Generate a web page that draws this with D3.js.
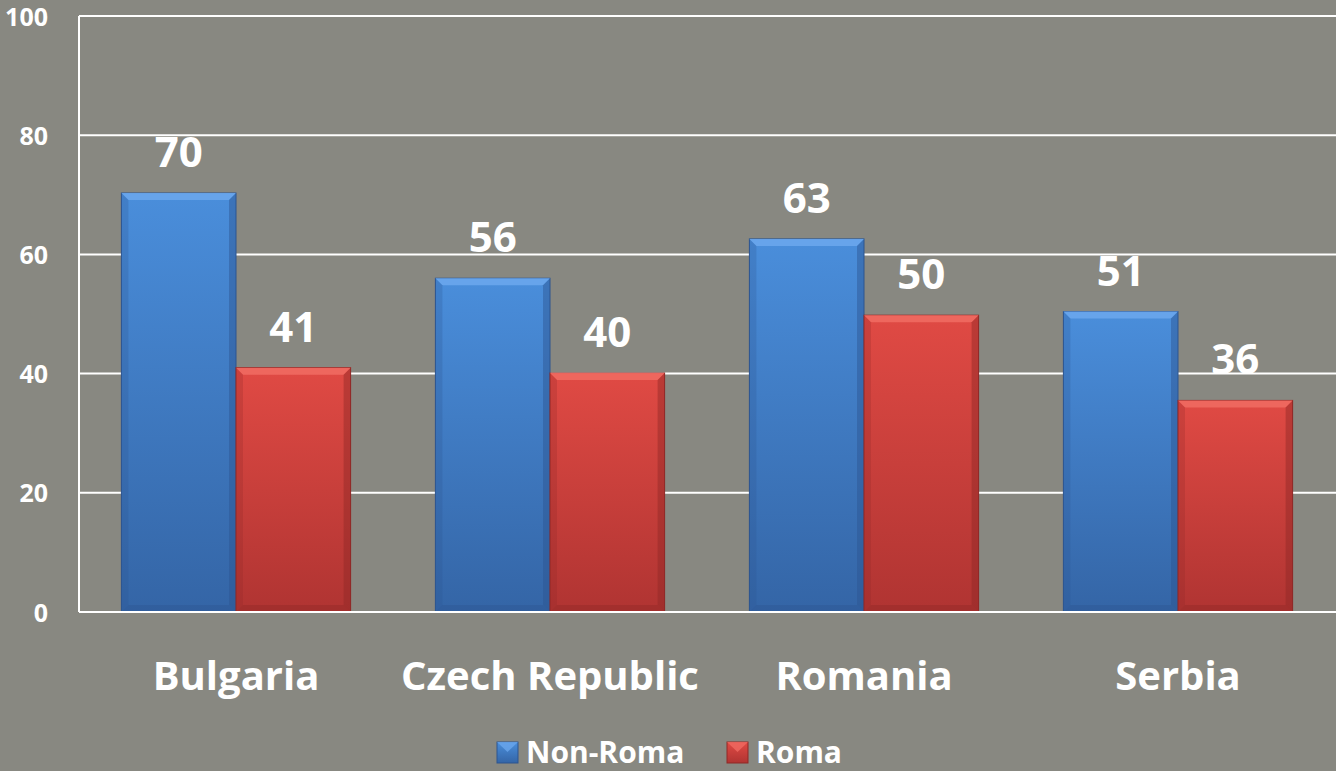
<!DOCTYPE html>
<html><head><meta charset="utf-8">
<script src="https://cdn.jsdelivr.net/npm/d3@7"></script>
<style>
html,body{margin:0;padding:0;background:#888881;}
svg{display:block;}
text{font-family:"Open Sans",Lato,sans-serif;font-weight:700;fill:#fff;}
</style></head><body>
<svg id="c" width="1336" height="771"></svg>
<script>
const categories = ["Bulgaria","Czech Republic","Romania","Serbia"];
const seriesNames = ["Non-Roma","Roma"];
const nonRoma = [70.3, 56.0, 62.6, 50.4];
const roma = [41.0, 40.1, 49.8, 35.5];
const nonRomaLabels = ["70","56","63","51"];
const romaLabels = ["41","40","50","36"];
const yTicks = [0,20,40,60,80,100];

const W = 1336, H = 771;
const m = {left:79, right:1, top:16, bottom:159};
const svg = d3.select("#c");
const defs = svg.append("defs");
const palettes = {
  "Non-Roma": {top:"#4a8edb", bot:"#3465a6", light:"#6aa6ec", dark:"#2c5590"},
  "Roma": {top:"#e04a44", bot:"#b03432", light:"#f06a62", dark:"#8f2826"}
};
seriesNames.forEach((s,i)=>{
  const g = defs.append("linearGradient").attr("id","g"+i).attr("x1",0).attr("x2",0).attr("y1",0).attr("y2",1);
  g.append("stop").attr("offset","0%").attr("stop-color",palettes[s].top);
  g.append("stop").attr("offset","100%").attr("stop-color",palettes[s].bot);
});

const x0 = d3.scaleBand().domain(categories).range([m.left, W-m.right]).paddingInner(0.27).paddingOuter(0.135);
const x1 = d3.scaleBand().domain(seriesNames).range([0, x0.bandwidth()]).padding(0);
const y = d3.scaleLinear().domain([0,100]).range([H-m.bottom, m.top]);

// grid
svg.append("g").selectAll("line").data(yTicks.filter(d=>d>0)).join("line")
  .attr("x1",m.left).attr("x2",W).attr("y1",d=>y(d)).attr("y2",d=>y(d))
  .attr("stroke","#fff").attr("stroke-width",2);
// axes lines
svg.append("line").attr("x1",m.left).attr("x2",m.left).attr("y1",y(100)).attr("y2",y(0)).attr("stroke","#fff").attr("stroke-width",2);

// y tick labels
const yAxis = d3.axisLeft(y).tickValues(yTicks).tickSize(0).tickPadding(31);
const ya = svg.append("g").attr("transform",`translate(${m.left},0)`).call(yAxis);
ya.select(".domain").remove();
ya.selectAll("text").attr("font-size",25).attr("font-family","'Open Sans',sans-serif").attr("font-weight",700).attr("fill","#fff").attr("dy","0.36em");

const data = categories.map((c,i)=>({cat:c, vals:[
  {s:"Non-Roma", v:nonRoma[i], l:nonRomaLabels[i], k:0},
  {s:"Roma", v:roma[i], l:romaLabels[i], k:1}]}));

const groups = svg.append("g").selectAll("g").data(data).join("g")
  .attr("transform",d=>`translate(${x0(d.cat)},0)`);
const bars = groups.selectAll("g.bar").data(d=>d.vals).join("g").attr("class","bar");
bars.append("rect")
  .attr("x",d=>x1(d.s)).attr("y",d=>y(d.v)).attr("width",x1.bandwidth()).attr("height",d=>y(0)-y(d.v))
  .attr("fill",d=>`url(#g${d.k})`).attr("stroke",d=>palettes[d.s].dark).attr("stroke-width",1);
// bevels
const bv = 7;
bars.append("path").attr("d",d=>{
  const xa=x1(d.s), xb=xa+x1.bandwidth(), yt=y(d.v);
  return `M${xa},${yt}L${xb},${yt}L${xb-bv},${yt+bv}L${xa+bv},${yt+bv}Z`;
}).attr("fill",d=>palettes[d.s].light).attr("opacity",0.9);
bars.append("path").attr("d",d=>{
  const xa=x1(d.s), xb=xa+x1.bandwidth(), yt=y(d.v), yb=y(0);
  return `M${xa},${yt}L${xa+bv},${yt+bv}L${xa+bv},${yb-bv}L${xa},${yb}Z`;
}).attr("fill",d=>palettes[d.s].dark).attr("opacity",0.25);
bars.append("path").attr("d",d=>{
  const xa=x1(d.s), xb=xa+x1.bandwidth(), yt=y(d.v), yb=y(0);
  return `M${xb},${yt}L${xb-bv},${yt+bv}L${xb-bv},${yb-bv}L${xb},${yb}Z`;
}).attr("fill",d=>palettes[d.s].dark).attr("opacity",0.45);
bars.append("path").attr("d",d=>{
  const xa=x1(d.s), xb=xa+x1.bandwidth(), yb=y(0);
  return `M${xa},${yb}L${xa+bv},${yb-bv}L${xb-bv},${yb-bv}L${xb},${yb}Z`;
}).attr("fill",d=>palettes[d.s].dark).attr("opacity",0.4);
bars.append("text")
  .attr("x",d=>x1(d.s)+x1.bandwidth()/2).attr("y",d=>y(d.v)-26)
  .attr("text-anchor","middle").attr("font-size",42).text(d=>d.l);

// bottom axis line
svg.append("line").attr("x1",m.left).attr("x2",W).attr("y1",y(0)).attr("y2",y(0)).attr("stroke","#fff").attr("stroke-width",2);

// category labels
const xAxis = d3.axisBottom(x0).tickSize(0).tickPadding(0);
const xa = svg.append("g").attr("transform",`translate(0,${y(0)})`).call(xAxis);
xa.select(".domain").remove();
xa.selectAll("text").attr("font-size",40).attr("font-family","'Open Sans',sans-serif").attr("font-weight",700).attr("fill","#fff")
  .attr("dy",null).attr("y",78);

// legend
const leg = svg.append("g");
const legItems = [{s:"Non-Roma",x:497,k:0},{s:"Roma",x:727,k:1}];
legItems.forEach(it=>{
  leg.append("rect").attr("x",it.x).attr("y",742).attr("width",21).attr("height",21)
    .attr("fill",`url(#g${it.k})`).attr("stroke",palettes[it.s].dark);
  leg.append("path").attr("d",`M${it.x},742L${it.x+21},742L${it.x+10.5},752Z`).attr("fill",palettes[it.s].light).attr("opacity",0.8);
  leg.append("text").attr("x",it.x+29).attr("y",763).attr("font-size",30).text(it.s);
});
</script></body></html>
